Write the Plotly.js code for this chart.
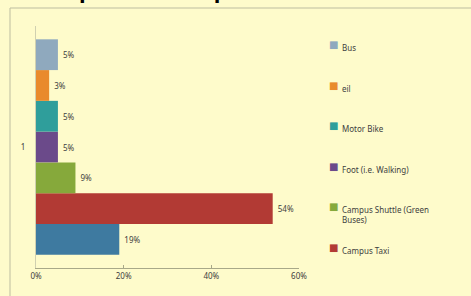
<!DOCTYPE html>
<html><head><meta charset="utf-8">
<script src="https://cdn.plot.ly/plotly-3.0.1.min.js"></script>
<style>html,body{margin:0;padding:0;background:#FEFBCB;}#chart{width:471px;height:296px;}</style>
</head><body><div id="chart"></div>
<script>
// Data (bottom-to-top order of bars in the group)
var seriesNames = ["Other", "Campus Taxi", "Campus Shuttle (Green<br>Buses)", "Foot (i.e. Walking)", "Motor Bike", "eil", "Bus"];
var seriesValues = [0.19, 0.54, 0.09, 0.05, 0.05, 0.03, 0.05];
var seriesLabels = ["19%", "54%", "9%", "5%", "5%", "3%", "5%"];
var seriesColors = ["#3E7AA0", "#B23A34", "#86A93B", "#6B4A8A", "#2F9E9B", "#E98A2C", "#8FA9BE"];
var legendShown = [false, true, true, true, true, true, true];
var category = ["1"];
var xTicks = [0, 0.2, 0.4, 0.6];
var xTickText = ["0%", "20%", "40%", "60%"];
var chartTitle = "Transport to Campus";

var fontFam = "Noto Sans, Open Sans, sans-serif";
var traces = seriesNames.map(function(n, i){
  return {
    type: "bar", orientation: "h",
    y: category, x: [seriesValues[i]],
    name: n, showlegend: false,
    marker: {color: seriesColors[i]},
    text: [" " + seriesLabels[i]], textposition: "outside",
    textfont: {size: 8, color: "#404040", family: fontFam},
    cliponaxis: false, hoverinfo: "none"
  };
});

// Legend drawn as annotations (top to bottom: reverse of data order)
var H = 242, T = 26, L = 36, W = 263;
function px2x(p){ return (p - L) / W; }
function px2y(p){ return (T + H - p) / H; }
var annotations = [];
var k = 0;
for (var i = seriesNames.length - 1; i >= 0; i--) {
  if (!legendShown[i]) continue;
  var topPx = 40 + 40.6 * k;
  annotations.push({
    xref: "paper", yref: "paper", x: px2x(328), xanchor: "left",
    y: px2y(topPx - 2), yanchor: "top", showarrow: false,
    text: "■", font: {size: 10, color: seriesColors[i], family: "DejaVu Sans, sans-serif"}, borderpad: 0
  });
  annotations.push({
    xref: "paper", yref: "paper", x: px2x(340), xanchor: "left",
    y: px2y(topPx), yanchor: "top", align: "left", showarrow: false,
    text: seriesNames[i], font: {size: 8, color: "#404040", family: fontFam}
  });
  k++;
}
// Title (cropped at top edge as in the reference)
annotations.push({
  xref: "paper", yref: "paper", x: px2x(13), xanchor: "left", y: px2y(5), yanchor: "bottom",
  showarrow: false, text: "<b>" + chartTitle + "</b>",
  font: {size: 24, color: "#000", family: "Liberation Sans, Arial, sans-serif"}
});

var layout = {
  width: 471, height: 296,
  margin: {l: L, r: 471 - L - W, t: T, b: 296 - T - H},
  paper_bgcolor: "#FEFBCB", plot_bgcolor: "#FEFBCB",
  barmode: "group", bargap: 0.11, bargroupgap: 0,
  font: {family: fontFam, size: 8, color: "#404040"},
  xaxis: {range: [0, 0.6], tickvals: xTicks, ticktext: xTickText, showgrid: false, zeroline: false,
          showline: true, linecolor: "#A8A888", linewidth: 1, ticks: "inside", ticklen: 3, tickcolor: "#A8A888",
          tickfont: {size: 8, color: "#404040"}, fixedrange: true},
  yaxis: {type: "category", showgrid: false, zeroline: false, showline: true, linecolor: "#D0D0B0",
          ticks: "", tickfont: {size: 8, color: "#404040"}, ticklabelstandoff: 8, fixedrange: true},
  annotations: annotations,
  shapes: [
    {type: "line", xref: "paper", yref: "paper", x0: px2x(10), x1: px2x(10), y0: px2y(296), y1: px2y(8), line: {color: "#BDBDA0", width: 1}},
    {type: "line", xref: "paper", yref: "paper", x0: px2x(10), x1: px2x(471), y0: px2y(8), y1: px2y(8), line: {color: "#BDBDA0", width: 1}}
  ],
  showlegend: false
};
Plotly.newPlot("chart", traces, layout, {staticPlot: true, displayModeBar: false});
</script></body></html>
